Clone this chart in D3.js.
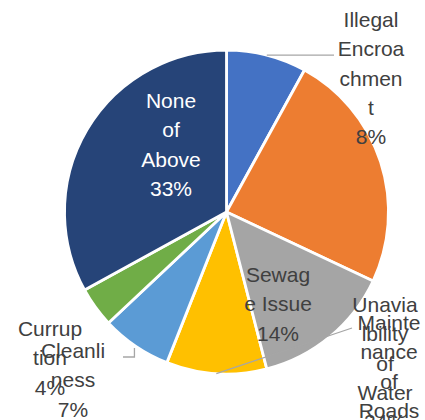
<!DOCTYPE html>
<html>
<head>
<meta charset="utf-8">
<script src="https://cdn.jsdelivr.net/npm/d3@7"></script>
<style>
  html, body { margin: 0; padding: 0; background: #ffffff; overflow: hidden; }
  svg { display: block; }
</style>
</head>
<body>
<svg id="chart" width="425" height="420"></svg>
<script>
// Survey responses: share of each issue (%)
const categories = [
  "Illegal Encroachment",
  "Unavialbility of Water",
  "Sewage Issue",
  "Maintenance of Roads",
  "Cleanliness",
  "Curruption",
  "None of Above"
];
const shares = [8, 24, 14, 10, 7, 4, 33];

// Label text broken into lines the way the chart wraps them
const labelLines = [
  ["Illegal", "Encroa", "chmen", "t"],
  ["Unavia", "lbility", "of", "Water"],
  ["Sewag", "e Issue"],
  ["Mainte", "nance", "of", "Roads"],
  ["Cleanli", "ness"],
  ["Currup", "tion"],
  ["None", "of", "Above"]
];

const palette = ["#4472C4", "#ED7D31", "#A5A5A5", "#FFC000", "#5B9BD5", "#70AD47", "#264478"];

// Layout: where each label block sits (centre x, first baseline y)
const labelAnchor = [
  { x: 371, y: 27 },
  { x: 385, y: 312 },
  { x: 278, y: 282 },
  { x: 389, y: 330 },
  { x: 73,  y: 358 },
  { x: 50,  y: 336 },
  { x: 171, y: 108 }
];
const lineHeight = 29.3;

const svg = d3.select("#chart");
const cx = 226.5, cy = 212, radius = 162;

const g = svg.append("g").attr("transform", `translate(${cx},${cy})`);

const data = categories.map((c, i) => ({ name: c, value: shares[i], index: i }));
const pie = d3.pie().sort(null).value(d => d.value);
const arcs = pie(data);
const arc = d3.arc().innerRadius(0).outerRadius(radius);

const color = d3.scaleOrdinal().domain(categories).range(palette);

const slices = g.append("g").selectAll("path")
  .data(arcs)
  .join("path")
  .attr("d", arc)
  .attr("fill", d => color(d.data.name))
  .attr("stroke", "#ffffff")
  .attr("stroke-width", 2.8)
  .attr("stroke-linejoin", "round");

// Point on the rim at the middle of a slice
function rimPoint(d) {
  const a = (d.startAngle + d.endAngle) / 2;
  return [radius * Math.sin(a), -radius * Math.cos(a)];
}

const leaders = g.append("g")
  .attr("fill", "none")
  .attr("stroke", "#A6A6A6")
  .attr("stroke-width", 1.3);

// Illegal Encroachment: horizontal leader to its label
{
  const p = rimPoint(arcs[0]);
  leaders.append("path")
    .attr("d", d3.line()([p, [334 - cx, p[1]]]));
}
// Maintenance of Roads: straight leader toward its label
{
  const p = rimPoint(arcs[3]);
  leaders.append("path")
    .attr("d", d3.line()([p, [352 - cx, 328 - cy]]));
}
// Cleanliness: short elbow leader
{
  const p = rimPoint(arcs[4]);
  leaders.append("path")
    .attr("d", d3.line()([[p[0] - 1, p[1] + 2], [p[0] - 1, 357 - cy], [123 - cx, 357 - cy]]));
}

// The sewage slice sits above the roads leader line
slices.filter(d => d.index === 2).raise();

// Data labels
const fmt = d => Math.round(d) + "%";
const labels = svg.append("g")
  .attr("font-family", "'Liberation Sans', Arial, sans-serif")
  .attr("font-size", 21)
  .attr("text-anchor", "middle");

arcs.forEach((d, i) => {
  const lines = labelLines[i].concat([fmt(d.data.value)]);
  const t = labels.append("text")
    .attr("fill", i === 6 ? "#ffffff" : "#404040");
  lines.forEach((ln, k) => {
    t.append("tspan")
      .attr("x", labelAnchor[i].x)
      .attr("y", labelAnchor[i].y + k * lineHeight)
      .text(ln);
  });
});
</script>
</body>
</html>
